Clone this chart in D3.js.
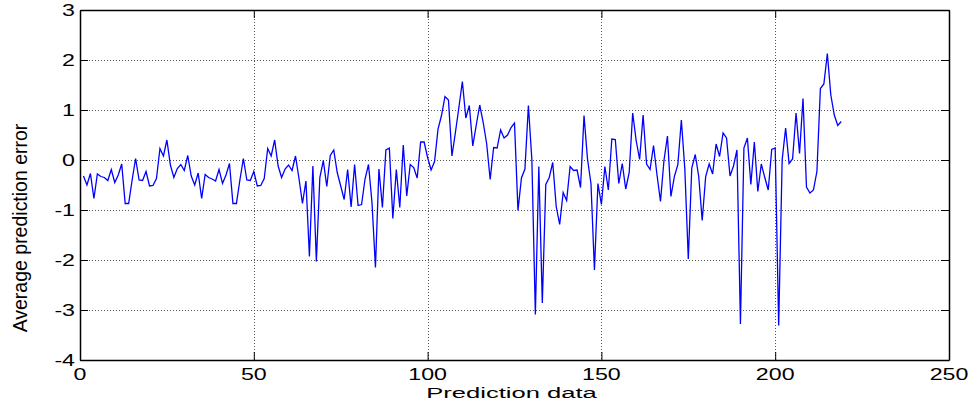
<!DOCTYPE html>
<html><head><meta charset="utf-8">
<script src="https://cdn.jsdelivr.net/npm/d3@7"></script>
<style>body{margin:0;background:#fff}svg{display:block}</style>
</head><body>
<svg id="chart" width="972" height="400"></svg>
<script>
// Average prediction error for prediction samples 1..219
const errors = [
-0.32,-0.5,-0.27,-0.77,-0.28,-0.33,-0.35,-0.41,-0.19,-0.45,
-0.3,-0.08,-0.87,-0.87,-0.4,0.03,-0.4,-0.41,-0.23,-0.52,
-0.51,-0.37,0.23,0.08,0.4,
-0.1,-0.35,-0.17,-0.09,-0.21,0.09,-0.32,-0.5,-0.26,-0.77,
-0.29,-0.35,-0.38,-0.42,-0.19,-0.47,-0.3,-0.07,-0.87,-0.87,
-0.4,0.03,-0.4,-0.41,-0.23,
-0.52,-0.51,-0.37,0.23,0.08,0.4,-0.12,-0.35,-0.18,-0.1,
-0.21,0.08,-0.37,-0.87,-0.42,-1.93,-0.12,-2.03,-0.35,-0.01,
-0.53,0.09,0.2,-0.25,-0.52,
-0.79,-0.19,-0.94,-0.09,-0.91,-0.89,-0.38,-0.09,-0.85,-2.15,
-0.18,-0.95,0.2,0.24,-1.17,-0.19,-0.95,0.3,-0.72,-0.09,
-0.15,-0.36,0.36,0.36,0.05,
-0.2,-0.03,0.62,0.89,1.27,1.2,0.08,0.55,1.05,1.57,
0.84,1.09,0.28,0.7,1.1,0.75,0.32,-0.39,0.25,0.24,
0.6,0.44,0.5,0.65,0.74,
-1.01,-0.36,-0.18,1.09,0.0,-3.09,-0.13,-2.86,-0.49,-0.35,
-0.05,-0.93,-1.29,-0.65,-0.81,-0.13,-0.21,-0.2,-0.55,0.89,
0.02,-0.47,-2.2,-0.47,-0.89,
-0.13,-0.6,0.42,0.41,-0.47,-0.07,-0.58,-0.25,0.94,0.39,
0.01,0.9,-0.08,-0.19,0.29,-0.3,-0.83,-0.01,0.48,-0.73,
-0.33,-0.09,0.8,-0.18,-1.98,
-0.16,0.11,-0.33,-1.21,-0.33,-0.08,-0.28,0.32,0.07,0.54,
0.44,-0.32,-0.12,0.2,-3.28,0.24,0.44,-0.49,0.36,-0.63,
-0.08,-0.35,-0.6,0.21,0.24,
-3.31,0.0,0.64,-0.07,0.02,0.94,0.13,1.23,-0.54,-0.66,
-0.6,-0.23,1.43,1.52,2.13,1.3,0.9,0.69,0.77
];
const xTicks = [0, 50, 100, 150, 200, 250];
const yTicks = [-4, -3, -2, -1, 0, 1, 2, 3];
const xLabel = "Prediction data";
const yLabel = "Average prediction error";

const svg = d3.select("#chart");
const L = 80, R = 949, T = 10, B = 360;
const x = d3.scaleLinear().domain([0, 250]).range([L, R]);
const y = d3.scaleLinear().domain([-4, 3]).range([B, T]);
const font = "'Liberation Sans', Arial, Helvetica, sans-serif";
const sx = 1.45;

// grid
const grid = svg.append("g").attr("stroke", "#555").attr("stroke-width", 1)
  .attr("stroke-dasharray", "1,2").attr("shape-rendering", "crispEdges");
grid.selectAll("line.gx").data(xTicks.filter(v => v > 0 && v < 250)).join("line")
  .attr("x1", d => Math.round(x(d)) + 0.5).attr("x2", d => Math.round(x(d)) + 0.5)
  .attr("y1", T).attr("y2", B);
grid.selectAll("line.gy").data(yTicks.filter(v => v > -4 && v < 3)).join("line")
  .attr("class", "gy")
  .attr("x1", L).attr("x2", R)
  .attr("y1", d => Math.round(y(d)) + 0.5).attr("y2", d => Math.round(y(d)) + 0.5);

// axes (ticks inward), on all four sides
const tk = 8;
function styleAxis(g) {
  g.selectAll("text").remove();
  g.select(".domain").attr("stroke", "#000").attr("stroke-width", 1.5);
  g.selectAll(".tick line").attr("stroke", "#000").attr("stroke-width", 1);
}
svg.append("g").attr("transform", `translate(0,${B})`)
  .call(d3.axisBottom(x).tickValues(xTicks).tickSize(-tk).tickSizeOuter(0)).call(styleAxis);
svg.append("g").attr("transform", `translate(0,${T})`)
  .call(d3.axisTop(x).tickValues(xTicks).tickSize(-tk).tickSizeOuter(0)).call(styleAxis);
svg.append("g").attr("transform", `translate(${L},0)`)
  .call(d3.axisLeft(y).tickValues(yTicks).tickSize(-tk).tickSizeOuter(0)).call(styleAxis);
svg.append("g").attr("transform", `translate(${R},0)`)
  .call(d3.axisRight(y).tickValues(yTicks).tickSize(-tk).tickSizeOuter(0)).call(styleAxis);

// data line
const line = d3.line().x((d, i) => x(i + 1)).y(d => y(d));
svg.append("path").datum(errors)
  .attr("fill", "none").attr("stroke", "#0000ff").attr("stroke-width", 1.3)
  .attr("stroke-linejoin", "miter").attr("d", line);

// tick labels
svg.append("g").selectAll("g").data(yTicks).join("g")
  .attr("transform", d => `translate(${L - 5},${y(d)}) scale(${sx},1)`)
  .append("text").attr("text-anchor", "end").attr("dy", "0.36em")
  .attr("font-family", font).attr("font-size", 16).attr("fill", "#000")
  .text(d => String(d).replace("\u2212", "-"));
svg.append("g").selectAll("g").data(xTicks).join("g")
  .attr("transform", d => `translate(${x(d)},${B + 20}) scale(${sx},1)`)
  .append("text").attr("text-anchor", "middle")
  .attr("font-family", font).attr("font-size", 16).attr("fill", "#000")
  .text(d => d);

// axis labels
svg.append("g").attr("transform", `translate(${(L + R) / 2 - 3},${B + 38}) scale(1.65,1)`)
  .append("text").attr("text-anchor", "middle")
  .attr("font-family", font).attr("font-size", 15.5).attr("fill", "#000").text(xLabel);
svg.append("g").attr("transform", `translate(27,228) scale(1.05,1) rotate(-90)`)
  .append("text").attr("text-anchor", "middle")
  .attr("font-family", font).attr("font-size", 19.5).attr("fill", "#000").text(yLabel);
</script>
</body></html>
